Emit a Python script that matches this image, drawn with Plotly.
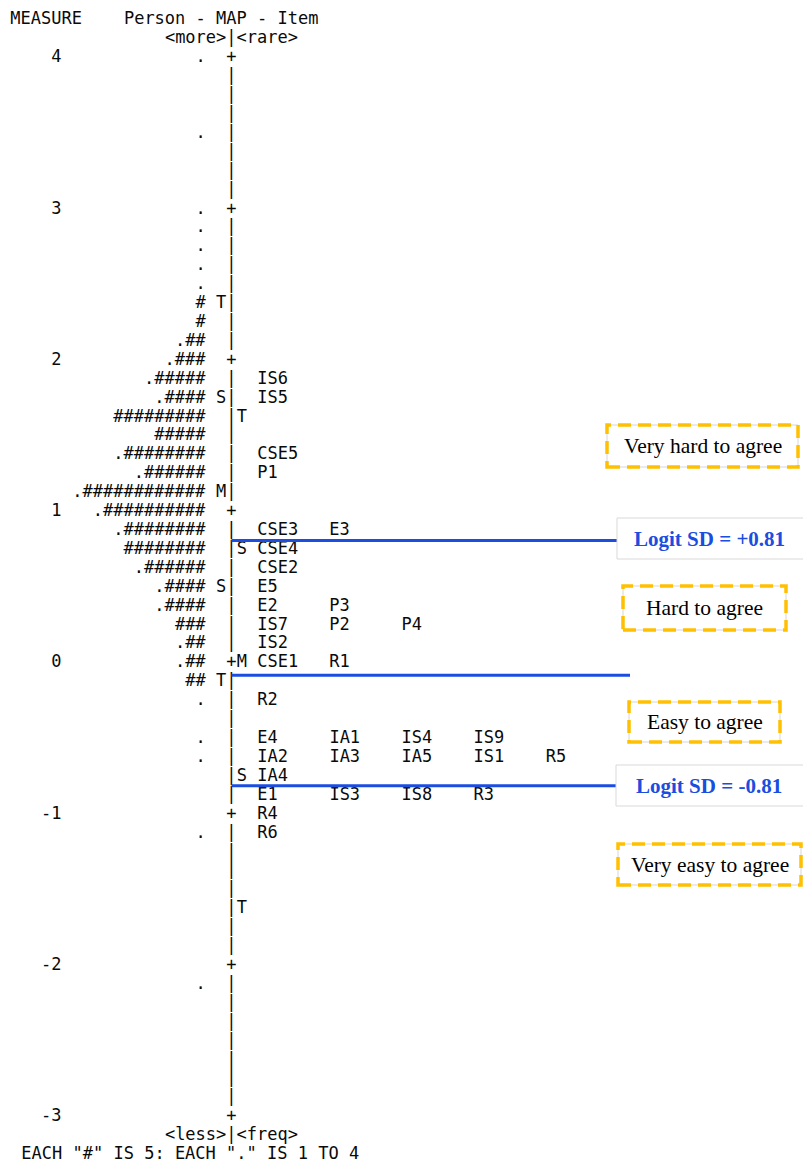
import plotly.graph_objects as go

# ---------------- data ----------------
measure_ticks = [4, 3, 2, 1, 0, -1, -2, -3]

person_measures = [4.0, 3.5, 3.0, 2.875, 2.75, 2.625, 2.5, 2.375, 2.25, 2.125,
                   2.0, 1.875, 1.75, 1.625, 1.5, 1.375, 1.25, 1.125, 1.0, 0.875,
                   0.75, 0.625, 0.5, 0.375, 0.25, 0.125, 0.0, -0.125, -0.25,
                   -0.5, -0.625, -1.125, -2.125]
person_symbols = [".", ".", ".", ".", ".", ".", ".", "#", "#", ".##",
                  ".###", ".#####", ".####", "#########", "#####", ".########", ".######", ".############", ".##########", ".########",
                  "########", ".######", ".####", ".####", "###", ".##", ".##", "##", ".",
                  ".", ".", ".", "."]

person_marker_measures = [2.375, 1.75, 1.125, 0.5, -0.125]
person_marker_labels = ["T", "S", "M", "S", "T"]

item_marker_measures = [1.625, 0.75, 0.0, -0.75, -1.625]
item_marker_labels = ["T", "S", "M", "S", "T"]

item_names = ["IS6", "IS5", "CSE5", "P1", "CSE3", "E3", "CSE4", "CSE2", "E5",
              "E2", "P3", "IS7", "P2", "P4", "IS2", "CSE1", "R1", "R2",
              "E4", "IA1", "IS4", "IS9", "IA2", "IA3", "IA5", "IS1", "R5",
              "IA4", "E1", "IS3", "IS8", "R3", "R4", "R6"]
item_measures = [1.875, 1.75, 1.375, 1.25, 0.875, 0.875, 0.75, 0.625, 0.5,
                 0.375, 0.375, 0.25, 0.25, 0.25, 0.125, 0.0, 0.0, -0.25,
                 -0.5, -0.5, -0.5, -0.5, -0.625, -0.625, -0.625, -0.625, -0.625,
                 -0.75, -0.875, -0.875, -0.875, -0.875, -1.0, -1.125]

logit_line_measures = [0.81, -0.08, -0.81]

band_labels = ["Very hard to agree", "Hard to agree", "Easy to agree", "Very easy to agree"]
sd_labels = ["Logit SD = +0.81", "Logit SD = -0.81"]

header_left = "MEASURE"
header_mid = "Person - MAP - Item"
header_top = "<more>|<rare>"
footer_axis = "<less>|<freq>"
footer_note = 'EACH "#" IS 5: EACH "." IS 1 TO 4'

# ---------------- layout constants ----------------
W, H = 803, 1162
COL0, CW = 10.0, 10.3           # left edge of text column 0, char pitch (px)
STEP = 0.125                    # one text row = 1/8 logit
Y_TOP_PX, Y_BOT_PX = 58.0, 1117.0
PPU = (Y_BOT_PX - Y_TOP_PX) / 7.0
y_range = [-3 - (H - Y_BOT_PX) / PPU, 4 + Y_TOP_PX / PPU]

MONO = dict(family="DejaVu Sans Mono, Liberation Mono, monospace", size=17, color="#0a0a0a")
SERIF = "Liberation Serif, Times New Roman, serif"
BLUE = "#1a4de0"
ORANGE = "#FFC000"


def cx(col, length):
    """pixel x of the centre of a token starting at text column col"""
    return COL0 + (col + length / 2.0) * CW


def ypaper(px):
    return 1 - px / H


fig = go.Figure()


def add_text(xs, ys, texts, font=MONO):
    fig.add_trace(go.Scatter(x=xs, y=ys, text=texts, mode="text",
                             textposition="middle center", textfont=font,
                             cliponaxis=False, hoverinfo="skip", showlegend=False))


# measure labels (right-aligned to column 4)
add_text([cx(5 - len(str(t)), len(str(t))) for t in measure_ticks], measure_ticks,
         [str(t) for t in measure_ticks])

# person distribution (right-aligned, ending at column 18)
add_text([cx(19 - len(s), len(s)) for s in person_symbols], person_measures, person_symbols)

# person-side markers (column 20)
add_text([cx(20, 1)] * len(person_marker_labels), person_marker_measures, person_marker_labels)

# central axis built of "+" and "|" (column 21)
n_rows = int(round((measure_ticks[0] - measure_ticks[-1]) / STEP)) + 1
bar_y = [measure_ticks[0] - i * STEP for i in range(n_rows)]
bar_t = ["+" if i % 8 == 0 else "|" for i in range(n_rows)]
add_text([cx(21, 1)] * n_rows, bar_y, bar_t)

# item-side markers (column 22)
add_text([cx(22, 1)] * len(item_marker_labels), item_marker_measures, item_marker_labels)

# items: columns 24, 31, 38, ... for items sharing a row
item_x = []
seen = {}
for name, m in zip(item_names, item_measures):
    k = seen.get(m, 0)
    seen[m] = k + 1
    item_x.append(cx(24 + 7 * k, len(name)))
add_text(item_x, item_measures, item_names)

# header / footer lines
top = measure_ticks[0]
bot = measure_ticks[-1]
add_text([cx(0, len(header_left)), cx(11, len(header_mid)), cx(15, len(header_top))],
         [top + 2 * STEP, top + 2 * STEP, top + STEP],
         [header_left, header_mid, header_top])
add_text([cx(15, len(footer_axis)), cx(1, len(footer_note))],
         [bot - STEP, bot - 2 * STEP],
         [footer_axis, footer_note])

# blue logit lines from the axis to the boxes
line_ends_px = [617, 630, 616]
for m, xe in zip(logit_line_measures, line_ends_px):
    fig.add_shape(type="line", xref="x", yref="y", x0=cx(21, 1), x1=xe, y0=m, y1=m,
                  line=dict(color=BLUE, width=3))

# dashed orange boxes with their labels
band_boxes = [(607, 798, 425, 467), (623, 786, 586, 630), (629, 780, 702, 742), (618, 801, 844, 885)]
for lab, (x0, x1, t, b) in zip(band_labels, band_boxes):
    fig.add_shape(type="rect", xref="x", yref="paper", x0=x0, x1=x1, y0=ypaper(b), y1=ypaper(t),
                  line=dict(color="#d6d6d6", width=1), fillcolor="white", layer="above")
    fig.add_shape(type="rect", xref="x", yref="paper", x0=x0, x1=x1, y0=ypaper(b), y1=ypaper(t),
                  line=dict(color=ORANGE, width=3.5, dash="13px,7px"), layer="above")
    fig.add_annotation(x=(x0 + x1) / 2, y=ypaper((t + b) / 2), xref="x", yref="paper",
                       text=lab, showarrow=False, font=dict(family=SERIF, size=21.5, color="#000000"),
                       xanchor="center", yanchor="middle")

# SD boxes (thin grey border, bold blue text)
sd_boxes = [(617, 806, 518, 559), (616, 806, 765, 806)]
for lab, (x0, x1, t, b) in zip(sd_labels, sd_boxes):
    fig.add_shape(type="rect", xref="x", yref="paper", x0=x0, x1=x1, y0=ypaper(b), y1=ypaper(t),
                  line=dict(color="#d9d9d9", width=1), fillcolor="white", layer="above")
    fig.add_annotation(x=(x0 + 800) / 2 + 1, y=ypaper((t + b) / 2), xref="x", yref="paper",
                       text="<b>" + lab + "</b>", showarrow=False,
                       font=dict(family=SERIF, size=21, color=BLUE),
                       xanchor="center", yanchor="middle")

fig.update_layout(
    width=W, height=H, autosize=False,
    margin=dict(l=0, r=0, t=0, b=0),
    paper_bgcolor="white", plot_bgcolor="white",
    xaxis=dict(range=[0, W], visible=False, fixedrange=True),
    yaxis=dict(range=y_range, visible=False, fixedrange=True),
    showlegend=False,
)

fig.write_html("out.html",
               config={"displayModeBar": False, "staticPlot": True},
               post_script="document.body.style.margin='0';document.body.style.overflow='hidden';")
